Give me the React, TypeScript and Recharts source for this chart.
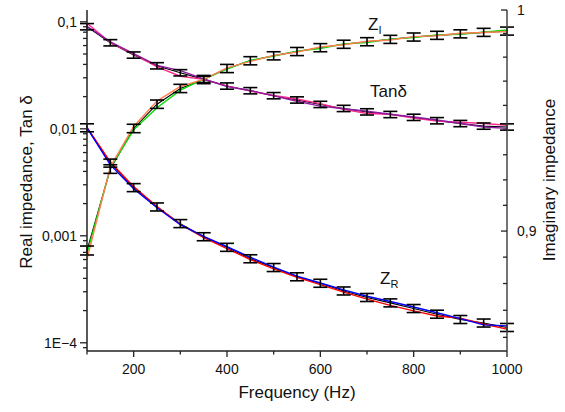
import { CartesianGrid, ErrorBar, Line, LineChart, XAxis, YAxis } from "recharts";

// Frequency sweep, Hz
const FREQS = [100, 150, 200, 250, 300, 350, 400, 450, 500, 550, 600, 650, 700, 750, 800, 850, 900, 950, 1000];

// Tan delta (left, log)
const TAN_MEAN = [0.09, 0.0637, 0.0489, 0.0388, 0.0334, 0.029, 0.0251, 0.0227, 0.0204, 0.0186, 0.0169, 0.0155, 0.0144, 0.0136, 0.0128, 0.0119, 0.0112, 0.0106, 0.0104];
const TAN_PINK = [0.097, 0.064, 0.05, 0.038, 0.031, 0.029, 0.0252, 0.0225, 0.0205, 0.019, 0.0172, 0.0152, 0.0139, 0.0137, 0.0126, 0.0118, 0.0115, 0.0112, 0.0108];
const TAN_PURPLE = [0.091, 0.065, 0.0505, 0.0392, 0.035, 0.0292, 0.0248, 0.0228, 0.0203, 0.0181, 0.0163, 0.0154, 0.0146, 0.0137, 0.0129, 0.0121, 0.0112, 0.0104, 0.0101];
const TAN_ERR = [0.07, 0.07, 0.07, 0.07, 0.07, 0.07, 0.07, 0.07, 0.07, 0.07, 0.07, 0.07, 0.07, 0.07, 0.07, 0.07, 0.07, 0.07, 0.07];

// Real impedance (left, log)
const ZR_MEAN = [0.01022, 0.00478, 0.00282, 0.00186, 0.0013, 0.00098, 0.00078, 0.00061, 0.000505, 0.000414, 0.00036, 0.000305, 0.000265, 0.000236, 0.000209, 0.000185, 0.000165, 0.000153, 0.000139];
const ZR_RED = [0.0103, 0.0049, 0.00288, 0.00188, 0.00128, 0.00096, 0.00076, 0.0006, 0.00049, 0.00041, 0.00035, 0.000298, 0.000256, 0.000224, 0.000199, 0.000178, 0.00017, 0.00015, 0.000134];
const ZR_BLUE = [0.0102, 0.0046, 0.00276, 0.00183, 0.00127, 0.00099, 0.00079, 0.00063, 0.00051, 0.00042, 0.000362, 0.000312, 0.000272, 0.000243, 0.000216, 0.000191, 0.000168, 0.000147, 0.000144];
const ZR_ERR = [0.09, 0.09, 0.09, 0.09, 0.09, 0.09, 0.09, 0.09, 0.09, 0.09, 0.09, 0.09, 0.09, 0.09, 0.09, 0.09, 0.09, 0.09, 0.09];

// Imaginary impedance (right, log)
const ZI_MEAN = [0.8917, 0.927, 0.9451, 0.9561, 0.9633, 0.9674, 0.9725, 0.9761, 0.9784, 0.9804, 0.9822, 0.9838, 0.985, 0.9861, 0.9872, 0.988, 0.9887, 0.9894, 0.99];
const ZI_GREEN = [0.8903, 0.9275, 0.9445, 0.9545, 0.9625, 0.9676, 0.9722, 0.9763, 0.9783, 0.9806, 0.9818, 0.984, 0.9846, 0.9862, 0.987, 0.9882, 0.9885, 0.9895, 0.9905];
const ZI_ORANGE = [0.888, 0.928, 0.946, 0.9575, 0.9642, 0.9675, 0.9728, 0.9758, 0.9786, 0.9802, 0.9825, 0.9836, 0.9852, 0.9858, 0.9874, 0.9878, 0.989, 0.9893, 0.9898];
const ZI_ERR = [0.0019, 0.0019, 0.0019, 0.0019, 0.0019, 0.0019, 0.0019, 0.0019, 0.0019, 0.0019, 0.0019, 0.0019, 0.0019, 0.0019, 0.0019, 0.0019, 0.0019, 0.0019, 0.0019];

// Axis ticks
const X_MAJOR = [200, 400, 600, 800, 1000];
const X_MINOR = [100, 300, 500, 700, 900];
const LEFT_MAJOR = [1e-4, 1e-3, 1e-2, 1e-1];
const LEFT_LABELS = ["1E\u22124", "0,001", "0,01", "0,1"];
const LEFT_DOMAIN = [8.38e-5, 0.129];
const RIGHT_MAJOR = [1, 0.9];
const RIGHT_LABELS = ["1", "0,9"];
const RIGHT_STEP = 0.1 / 9;
const RIGHT_DOMAIN = [0.85, 1];

const FONT = "'Liberation Sans', Arial, Helvetica, sans-serif";
const AXIS = "#222";
const TEXT = "#111";

const leftMinor: number[] = [];
for (const d of [1e-5, 1e-4, 1e-3, 1e-2, 1e-1]) {
  for (let m = 2; m <= 9; m++) {
    const v = m * d;
    if (v > LEFT_DOMAIN[0] && v < LEFT_DOMAIN[1]) leftMinor.push(v);
  }
}
const rightMinor: number[] = [];
for (let k = 1; k < 9; k++) rightMinor.push(0.9 + k * RIGHT_STEP);
for (let k = 1; k < 5; k++) rightMinor.push(0.9 - k * RIGHT_STEP);

// log-symmetric error bar offsets
const logErr = (v: number, e: number) => [v - v / (1 + e), v * e];

const data = FREQS.map((f, i) => ({
  f,
  tanPink: TAN_PINK[i],
  tanPurple: TAN_PURPLE[i],
  tanMean: TAN_MEAN[i],
  tanErr: logErr(TAN_MEAN[i], TAN_ERR[i]),
  zrRed: ZR_RED[i],
  zrBlue: ZR_BLUE[i],
  zrMean: ZR_MEAN[i],
  zrErr: logErr(ZR_MEAN[i], ZR_ERR[i]),
  ziGreen: ZI_GREEN[i],
  ziOrange: ZI_ORANGE[i],
  ziMean: ZI_MEAN[i],
  ziErr: ZI_ERR[i],
}));

function XTick(props: any) {
  const { x, y, payload } = props;
  const major = X_MAJOR.includes(payload.value);
  return (
    <g>
      <line x1={x} x2={x} y1={y} y2={y + (major ? 6 : 3.5)} stroke={AXIS} strokeWidth={1.3} />
      {major && (
        <text x={x} y={y + 23} textAnchor="middle" fontSize={14} fontFamily={FONT} fill={TEXT}>
          {payload.value}
        </text>
      )}
    </g>
  );
}

function LeftTick(props: any) {
  const { x, y, payload } = props;
  const idx = LEFT_MAJOR.indexOf(payload.value);
  const major = idx >= 0;
  return (
    <g>
      <line x1={x - (major ? 7 : 4)} x2={x} y1={y} y2={y} stroke={AXIS} strokeWidth={1.3} />
      {major && (
        <text x={x - 10} y={y + 5} textAnchor="end" fontSize={14} fontFamily={FONT} fill={TEXT}>
          {LEFT_LABELS[idx]}
        </text>
      )}
    </g>
  );
}

function RightTick(props: any) {
  const { x, y, payload } = props;
  const idx = RIGHT_MAJOR.indexOf(payload.value);
  const major = idx >= 0;
  return (
    <g>
      <line x1={x - (major ? 6 : 4)} x2={x} y1={y} y2={y} stroke={AXIS} strokeWidth={1.3} />
      {major && (
        <text x={x + 10} y={y + 5} textAnchor="start" fontSize={14} fontFamily={FONT} fill={TEXT}>
          {RIGHT_LABELS[idx]}
        </text>
      )}
    </g>
  );
}

const lineProps = { type: "linear" as const, dot: false, strokeWidth: 1.4, isAnimationActive: false };
const meanProps = { ...lineProps, strokeWidth: 1.1 };
const errProps = { width: 7, strokeWidth: 1.6, stroke: "#000", isAnimationActive: false };

export default function App() {
  return (
    <div style={{ position: "absolute", left: 0, top: 0, width: 565, height: 412, background: "#fff" }}>
      <LineChart width={565} height={412} data={data} margin={{ top: 10, right: 0, bottom: 0, left: 0 }}>
        <CartesianGrid stroke="none" />
        <XAxis
          dataKey="f"
          type="number"
          domain={[100, 1000]}
          ticks={[...X_MINOR, ...X_MAJOR].sort((a, b) => a - b)}
          interval={0}
          height={61}
          tickSize={0}
          tickMargin={0}
          tickLine={false}
          tick={<XTick />}
          axisLine={{ stroke: AXIS, strokeWidth: 1.5 }}
        />
        <XAxis
          xAxisId="top"
          orientation="top"
          dataKey="f"
          type="number"
          domain={[100, 1000]}
          height={0}
          tick={false}
          tickLine={false}
          axisLine={{ stroke: "#555", strokeWidth: 1.5 }}
        />
        <YAxis
          yAxisId="left"
          scale="log"
          type="number"
          domain={LEFT_DOMAIN}
          allowDataOverflow
          ticks={[...LEFT_MAJOR, ...leftMinor]}
          interval={0}
          width={87}
          tickSize={0}
          tickMargin={0}
          tickLine={false}
          tick={<LeftTick />}
          axisLine={{ stroke: AXIS, strokeWidth: 1.5 }}
        />
        <YAxis
          yAxisId="right"
          orientation="right"
          scale="log"
          type="number"
          domain={RIGHT_DOMAIN}
          allowDataOverflow
          ticks={[...RIGHT_MAJOR, ...rightMinor]}
          interval={0}
          width={58}
          tickSize={0}
          tickMargin={0}
          tickLine={false}
          tick={<RightTick />}
          axisLine={{ stroke: "#444", strokeWidth: 1.5 }}
        />

        {/* mean lines underneath the replicate traces */}
        <Line yAxisId="left" dataKey="tanMean" stroke="#000" {...meanProps} />
        <Line yAxisId="left" dataKey="zrMean" stroke="#000" {...meanProps} />
        <Line yAxisId="right" dataKey="ziMean" stroke="#000" {...meanProps} />

        <Line yAxisId="left" dataKey="tanPink" stroke="#ff2a8c" {...lineProps} />
        <Line yAxisId="left" dataKey="tanPurple" stroke="#8e1aa0" {...lineProps} />
        <Line yAxisId="left" dataKey="zrRed" stroke="#ff0000" {...lineProps} />
        <Line yAxisId="left" dataKey="zrBlue" stroke="#0000ff" {...lineProps} />
        <Line yAxisId="right" dataKey="ziGreen" stroke="#00dd00" {...lineProps} />
        <Line yAxisId="right" dataKey="ziOrange" stroke="#ff7f50" {...lineProps} />

        {/* error bars on top */}
        <Line yAxisId="left" dataKey="tanMean" stroke="none" {...lineProps}>
          <ErrorBar dataKey="tanErr" direction="y" {...errProps} />
        </Line>
        <Line yAxisId="left" dataKey="zrMean" stroke="none" {...lineProps}>
          <ErrorBar dataKey="zrErr" direction="y" {...errProps} />
        </Line>
        <Line yAxisId="right" dataKey="ziMean" stroke="none" {...lineProps}>
          <ErrorBar dataKey="ziErr" direction="y" {...errProps} />
        </Line>
      </LineChart>

      <svg
        width={565}
        height={412}
        style={{ position: "absolute", left: 0, top: 0, pointerEvents: "none" }}
        fontFamily={FONT}
        fill={TEXT}
      >
        <text x={368} y={30} fontSize={17}>
          Z<tspan fontSize={11} dy={4}>I</tspan>
        </text>
        <text x={370} y={97} fontSize={17}>
          Tanδ
        </text>
        <text x={380} y={284} fontSize={17}>
          Z<tspan fontSize={11} dy={4}>R</tspan>
        </text>
        <text x={297} y={398} fontSize={17} textAnchor="middle">
          Frequency (Hz)
        </text>
        <text transform="translate(32,182) rotate(-90)" fontSize={17} textAnchor="middle">
          Real impedance, Tan δ
        </text>
        <text transform="translate(555,180) rotate(-90)" fontSize={17} textAnchor="middle">
          Imaginary impedance
        </text>
      </svg>
    </div>
  );
}
